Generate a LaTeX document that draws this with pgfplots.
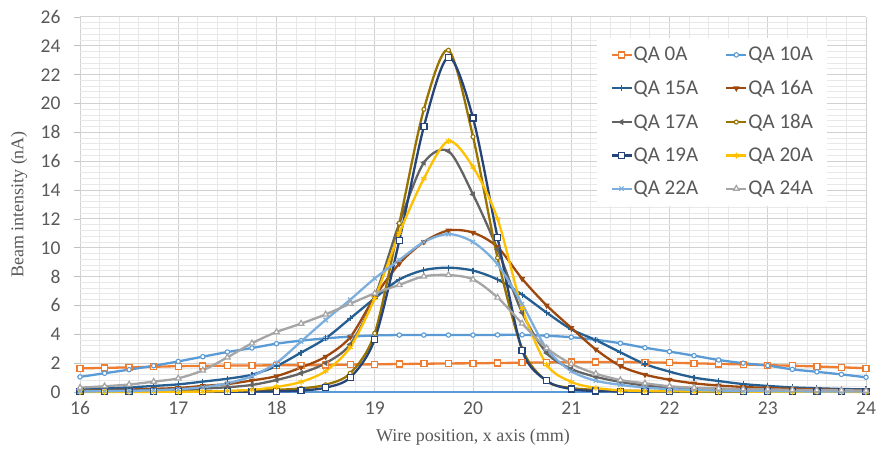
\documentclass[border=0pt]{standalone}
\usepackage{fontspec}
\setmainfont{Liberation Serif}
\newfontfamily\carlito{Carlito}
\usepackage{pgfplots}
\usepackage{pgfplotstable}
\pgfplotsset{compat=1.18}
\definecolor{c0}{HTML}{ED7D31}
\definecolor{c10}{HTML}{5B9BD5}
\definecolor{c15}{HTML}{255E91}
\definecolor{c16}{HTML}{9E480E}
\definecolor{c17}{HTML}{636363}
\definecolor{c18}{HTML}{997300}
\definecolor{c19}{HTML}{264478}
\definecolor{c20}{HTML}{FFC000}
\definecolor{c22}{HTML}{7CAFDD}
\definecolor{c24}{HTML}{A5A5A5}
\definecolor{txt}{HTML}{595959}
\pgfplotstableread{
x     a0    a10   a15   a16   a17   a18   a19   a20   a22   a24
16    1.64  1.05  0.20  0.10  0.10  0.02  0.02  0.01  0.04  0.30
16.25 1.67  1.30  0.25  0.13  0.11  0.02  0.02  0.01  0.05  0.40
16.5  1.71  1.55  0.32  0.17  0.13  0.02  0.02  0.01  0.08  0.52
16.75 1.75  1.82  0.42  0.22  0.15  0.03  0.02  0.01  0.12  0.72
17    1.79  2.12  0.53  0.28  0.18  0.03  0.02  0.02  0.19  0.95
17.25 1.81  2.45  0.72  0.42  0.24  0.04  0.02  0.03  0.33  1.50
17.5  1.83  2.77  0.92  0.55  0.33  0.06  0.02  0.07  0.60  2.40
17.75 1.84  3.05  1.20  0.80  0.49  0.10  0.03  0.15  1.10  3.38
18    1.85  3.35  1.80  1.10  0.83  0.15  0.04  0.35  2.02  4.16
18.25 1.86  3.56  2.73  1.70  1.30  0.25  0.10  0.70  3.50  4.74
18.5  1.87  3.72  3.72  2.45  2.00  0.50  0.30  1.45  5.00  5.38
18.75 1.90  3.84  5.10  3.80  3.30  1.30  1.00  3.10  6.40  6.12
19    1.92  3.92  6.50  6.60  6.60  4.07  3.66  6.50  7.88  6.84
19.25 1.94  3.95  7.80  8.90  11.70 11.70 10.50 11.00 9.15  7.43
19.5  1.96  3.95  8.45  10.40 15.90 19.60 18.40 14.80 10.40 8.02
19.75 1.98  3.95  8.62  11.20 16.70 23.70 23.20 17.40 10.95 8.11
20    1.99  3.95  8.42  11.05 13.70 17.70 19.00 15.60 10.40 7.81
20.25 2.01  3.96  7.80  10.05 9.90  9.30  10.70 12.00 8.85  6.55
20.5  2.03  3.96  6.75  7.85  5.50  3.00  2.90  5.80  6.10  4.75
20.75 2.05  3.90  5.50  6.00  2.70  0.75  0.78  1.90  3.00  3.04
21    2.07  3.80  4.35  4.45  1.60  0.28  0.20  0.70  1.45  1.95
21.25 2.08  3.62  3.60  2.95  1.05  0.15  0.07  0.28  0.78  1.27
21.5  2.08  3.38  2.75  1.80  0.70  0.10  0.04  0.12  0.50  0.83
21.75 2.06  3.07  1.94  1.20  0.45  0.07  0.03  0.07  0.30  0.60
22    2.03  2.80  1.41  0.85  0.32  0.05  0.03  0.05  0.20  0.40
22.25 1.99  2.52  1.00  0.60  0.24  0.04  0.02  0.04  0.15  0.30
22.5  1.95  2.22  0.76  0.45  0.18  0.04  0.02  0.03  0.10  0.25
22.75 1.91  2.00  0.55  0.35  0.14  0.03  0.02  0.03  0.08  0.20
23    1.86  1.83  0.42  0.28  0.11  0.03  0.02  0.02  0.06  0.18
23.25 1.82  1.57  0.32  0.22  0.09  0.03  0.02  0.02  0.05  0.15
23.5  1.77  1.40  0.26  0.18  0.07  0.02  0.02  0.02  0.04  0.13
23.75 1.71  1.22  0.21  0.15  0.06  0.02  0.02  0.01  0.04  0.12
24    1.65  1.02  0.18  0.12  0.05  0.02  0.02  0.01  0.03  0.10
}\datatable
\begin{document}
\begin{tikzpicture}
\begin{axis}[
  scale only axis, width=786pt, height=375pt,
  xmin=16, xmax=24, ymin=0, ymax=26,
  xtick={16,...,24}, ytick={0,2,...,26},
  minor x tick num=4, minor y tick num=4,
  grid=both,
  major grid style={draw=black!18, line width=1pt},
  minor grid style={draw=black!9, line width=1pt},
  axis x line=bottom, axis y line=left,
  x axis line style={draw=c10, line width=1.5pt, -},
  y axis line style={draw=none, -},
  tick align=outside, major tick length=6pt, minor tick length=0pt,
  y tick style={draw=black!25, line width=0.8pt},
  x tick style={draw=none},
  /pgf/number format/assume math mode=true,
  ticklabel style={font=\carlito\fontsize{19.5}{19.5}\selectfont, text=txt},
  yticklabel style={xshift=-10pt},
  xlabel={Wire position, x axis (mm)},
  ylabel={Beam intensity (nA)},
  label style={font=\fontsize{18}{18}\selectfont, text=txt},
  xlabel style={at={(axis description cs:0.5,-0.12)}, anchor=center},
  ylabel style={at={(axis description cs:-0.0776,0.5)}, anchor=center},
  clip=false,
  every axis plot/.append style={line width=2.3pt, smooth},
  legend style={at={(rel axis cs:0.658,0.945)}, anchor=north west,
    draw=none, fill=white, inner xsep=13pt, inner ysep=8.5pt,
    font=\carlito\fontsize{21}{21}\selectfont, text=txt,
    row sep=16pt,
    nodes={inner xsep=1pt, inner ysep=1pt},
    /tikz/every even column/.append style={column sep=26pt}},
  legend columns=2, legend cell align=left,
  legend image code/.code={\draw[mark repeat=2,mark phase=2] plot coordinates {(0pt,0pt) (10pt,0pt) (20pt,0pt)};},
]
\addplot[c0, mark=square*, mark size=3pt, mark options={solid, fill=white, line width=1.3pt}] table[x=x,y=a0] {\datatable};
\addlegendentry{QA 0A}
\addplot[c10, mark=*, mark size=2.2pt, mark options={solid, fill=white, line width=1.1pt}] table[x=x,y=a10] {\datatable};
\addlegendentry{QA 10A}
\addplot[c15, mark=+, mark size=3pt, mark options={solid, line width=1.2pt}] table[x=x,y=a15] {\datatable};
\addlegendentry{QA 15A}
\addplot[c16, mark=triangle*, mark size=1.3pt, mark options={solid, rotate=180}] table[x=x,y=a16] {\datatable};
\addlegendentry{QA 16A}
\addplot[c17, mark=triangle*, mark size=1.3pt, mark options={solid, rotate=90}] table[x=x,y=a17] {\datatable};
\addlegendentry{QA 17A}
\addplot[c18, mark=*, mark size=2pt, mark options={solid, fill=white, line width=1.1pt}] table[x=x,y=a18] {\datatable};
\addlegendentry{QA 18A}
\addplot[c19, mark=square*, mark size=3pt, mark options={solid, fill=white, line width=1.3pt}] table[x=x,y=a19] {\datatable};
\addlegendentry{QA 19A}
\addplot[c20, mark=asterisk, mark size=3pt, mark options={solid, line width=1.1pt}] table[x=x,y=a20] {\datatable};
\addlegendentry{QA 20A}
\addplot[c22, mark=x, mark size=3pt, mark options={solid, line width=1.1pt}] table[x=x,y=a22] {\datatable};
\addlegendentry{QA 22A}
\addplot[c24, mark=triangle*, mark size=3.2pt, mark options={solid, fill=white, line width=1.2pt}] table[x=x,y=a24] {\datatable};
\addlegendentry{QA 24A}
\end{axis}
\pgfresetboundingbox
\path[use as bounding box] (-80pt,-63pt) rectangle (802pt,392pt);
\end{tikzpicture}
\end{document}
